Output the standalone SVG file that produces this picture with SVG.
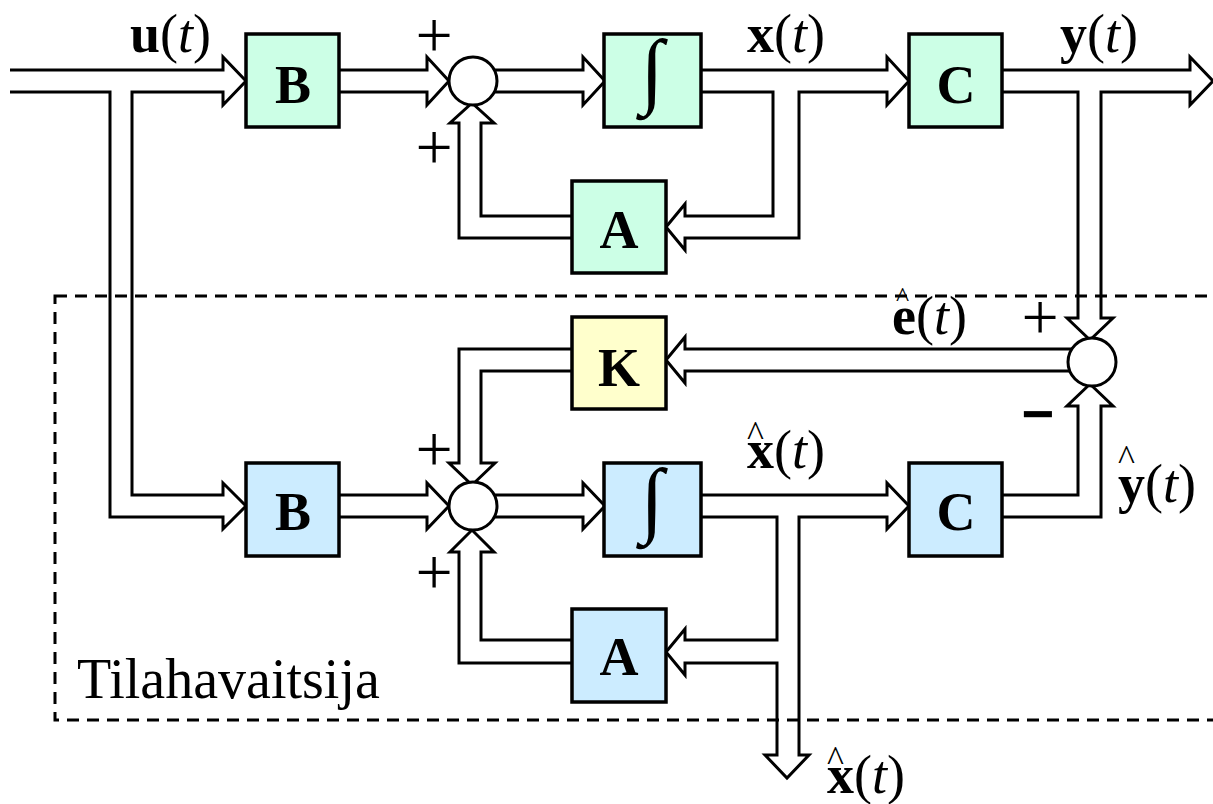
<svg xmlns="http://www.w3.org/2000/svg" width="1213" height="804" viewBox="0 0 1213 804">
<style>
.w{fill:none;stroke:#000;stroke-width:3;stroke-linejoin:miter;stroke-linecap:butt}
.box{stroke:#000;stroke-width:3.5}
.g{fill:#CCFFE6}.b{fill:#CCECFF}.y{fill:#FFFFCC}
.sum{fill:#fff;stroke:#000;stroke-width:3}
.t{font-family:"Liberation Serif","Times New Roman",serif;fill:#000}
.lt{font-size:54px;font-weight:bold;text-anchor:middle}
.lb{font-size:54px}
.bd{font-weight:bold}
.it{font-style:italic}
.hat{font-size:36px}
.hs{font-size:28px}
.pm{font-size:66px;text-anchor:middle}
.int{font-size:84px;text-anchor:middle}
</style>
<rect x="55" y="296" width="1170" height="424" fill="none" stroke="#000" stroke-width="3" stroke-dasharray="12 8"/>
<g id="connectors">
<path class="w" d="M10,70 H223 V57 L246,81 L223,105 V92 H132 V495 H223 V483 L246,506 L223,529 V517 H110 V92 H10"/>
<path class="w" d="M339,70 H427 V57 L449,81 L427,105 V92 H339"/>
<path class="w" d="M480,70 H583 V57 L605,81 L583,105 V92 H480"/>
<path class="w" d="M701,70 H887 V57 L909,81 L887,105 V92 H799 V238 H685 V250 L666,227 L685,204 V216 H773 V92 H701"/>
<path class="w" d="M572,216 H481 V123 H494 L472,103 L450,123 H459 V238 H572"/>
<path class="w" d="M1002,70 H1190 V57 L1213,81 L1190,105 V92 H1101 V318 H1113 L1090,340 L1067,318 H1078 V92 H1002"/>
<path class="w" d="M1080,349 H685 V337 L666,360 L685,383 V371 H1080"/>
<path class="w" d="M572,349 H459 V463 H449 L472,485 L495,463 H481 V371 H572"/>
<path class="w" d="M339,495 H427 V483 L449,506 L427,529 V517 H339"/>
<path class="w" d="M480,495 H583 V483 L605,506 L583,529 V517 H480"/>
<path class="w" d="M701,495 H887 V483 L909,506 L887,529 V517 H799 V755 H809 L787,778 L765,755 H777 V663 H685 V675 L666,652 L685,629 V640 H777 V517 H701"/>
<path class="w" d="M572,640 H481 V552 H494 L472,530 L450,552 H459 V663 H572"/>
<path class="w" d="M1002,495 H1078 V406 H1067 L1090,384 L1113,406 H1101 V517 H1002"/>
</g>
<g id="sum1"><circle class="sum" cx="473" cy="81" r="24"/></g>
<g id="sum2"><circle class="sum" cx="1092" cy="362" r="24"/></g>
<g id="sum3"><circle class="sum" cx="473" cy="506" r="24"/></g>
<g id="B1"><rect class="box g" x="246" y="34" width="93" height="93"/><text class="t lt" x="293" y="103">B</text></g>
<g id="I1"><rect class="box g" x="604" y="34" width="97" height="93"/><text class="t int" x="652" y="98">∫</text></g>
<g id="C1"><rect class="box g" x="909" y="34" width="93" height="93"/><text class="t lt" x="956" y="103">C</text></g>
<g id="A1"><rect class="box g" x="572" y="181" width="94" height="92"/><text class="t lt" x="619" y="248">A</text></g>
<g id="K"><rect class="box y" x="572" y="317" width="94" height="92"/><text class="t lt" x="619" y="386">K</text></g>
<g id="B2"><rect class="box b" x="246" y="463" width="93" height="93"/><text class="t lt" x="293" y="530">B</text></g>
<g id="I2"><rect class="box b" x="604" y="463" width="97" height="93"/><text class="t int" x="652" y="527">∫</text></g>
<g id="C2"><rect class="box b" x="909" y="463" width="93" height="93"/><text class="t lt" x="956" y="530">C</text></g>
<g id="A2"><rect class="box b" x="572" y="609" width="94" height="93"/><text class="t lt" x="619" y="675">A</text></g>
<g id="labels">
<text class="t lb" x="130" y="52"><tspan class="bd">u</tspan>(<tspan class="it">t</tspan>)</text>
<text class="t lb" x="747" y="52"><tspan class="bd">x</tspan>(<tspan class="it">t</tspan>)</text>
<text class="t lb" x="1060" y="52"><tspan class="bd">y</tspan>(<tspan class="it">t</tspan>)</text>
<text class="t lb"><tspan class="hs" x="896" y="306">^</tspan><tspan class="bd" x="892" y="334">e</tspan>(<tspan class="it">t</tspan>)</text>
<text class="t lb"><tspan class="hat" x="747" y="446">^</tspan><tspan class="bd" x="747" y="468">x</tspan>(<tspan class="it">t</tspan>)</text>
<text class="t lb"><tspan class="hat" x="1118" y="470">^</tspan><tspan class="bd" x="1118" y="502">y</tspan>(<tspan class="it">t</tspan>)</text>
<text class="t lb"><tspan class="hat" x="827" y="771">^</tspan><tspan class="bd" x="827" y="793">x</tspan>(<tspan class="it">t</tspan>)</text>
<text class="t pm" x="434" y="57">+</text>
<text class="t pm" x="434" y="169">+</text>
<text class="t pm" x="434" y="471">+</text>
<text class="t pm" x="434" y="594">+</text>
<text class="t pm" x="1040" y="339">+</text>
<text x="1038" y="433" font-family="Liberation Sans, Arial, sans-serif" font-weight="bold" font-size="56" text-anchor="middle">−</text>
<text class="t" x="77" y="698" font-size="56">Tilahavaitsija</text>
</g>
</svg>
